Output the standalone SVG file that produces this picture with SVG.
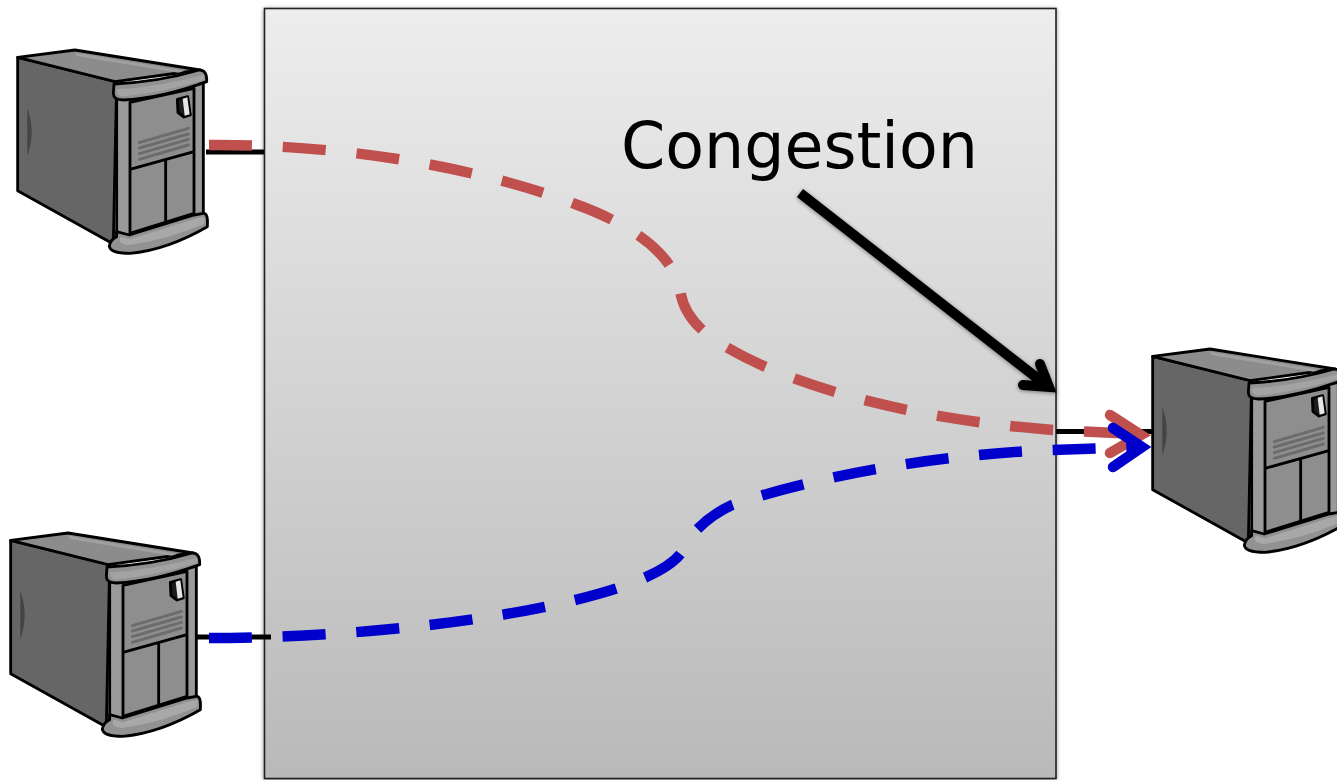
<svg xmlns="http://www.w3.org/2000/svg" width="1337" height="780" viewBox="0 0 1337 780">
<style>
.ol{stroke:#000;stroke-width:8.5;stroke-linejoin:round}
.vent{stroke:#6c6c6c;stroke-width:9;stroke-linecap:round;fill:none}
.link{stroke:#000;stroke-width:5;fill:none}
.flow{fill:none;stroke-width:10.5}
.head{fill:none;stroke-width:10.5;stroke-linecap:round;stroke-linejoin:miter;stroke-miterlimit:10}
.red{stroke:#c0504d;stroke-dasharray:43 30.9}
.blue{stroke:#0000cc;stroke-dasharray:43 30.7}
.head.red,.head.blue{stroke-dasharray:none}
.label{font-family:"DejaVu Sans",sans-serif;font-size:63.4px;fill:#000}
</style>
<defs>
<linearGradient id="panelFill" x1="0" y1="0" x2="0" y2="1">
<stop offset="0" stop-color="#ededed"/><stop offset="1" stop-color="#b9b9b9"/>
</linearGradient>
<filter id="soft" x="-5%" y="-5%" width="110%" height="110%">
<feGaussianBlur in="SourceAlpha" stdDeviation="2"/>
<feOffset dx="0" dy="1"/>
<feComponentTransfer><feFuncA type="linear" slope="0.45"/></feComponentTransfer>
<feMerge><feMergeNode/><feMergeNode in="SourceGraphic"/></feMerge>
</filter>
<g id="server" transform="translate(0,40) scale(.33333)">
<path class="ol" fill="#666" d="M53 52 L53 452 L340 612 L350 125 Z"/>
<path class="ol" fill="#8c8c8c" d="M53 52 L225 30 L600 90 L345 125 Z"/>
<path fill="#a0a0a0" d="M225 38 L555 92 L535 98 L230 48 Z"/>
<path fill="#444" d="M82 205 Q 108 275 82 348 Z"/>
<path class="ol" fill="#9a9a9a" d="M350 170 L610 130 L610 525 L350 600 Z"/>
<path class="ol" fill="#8e8e8e" d="M390 187 L582 145 L582 520 L390 580 Z"/>
<path class="ol" fill="none" d="M390 388 L582 335 M497 360 L497 548"/>
<path class="vent" d="M418 308 L565 265 M418 324 L565 282 M418 341 L565 298 M418 358 L565 315"/>
<path class="ol" fill="#1c1c1c" d="M532 178 L563 170 L571 225 L552 231 L534 218 Z"/>
<path fill="#e6e6e6" d="M548 176 L562 172 L569 223 L554 227 Z"/>
<path class="ol" fill="#929292" d="M342 132 Q 480 125 598 90 Q 622 90 620 125 Q 480 176 370 180 Q 340 180 340 160 Z"/>
<path fill="#a3a3a3" d="M350 148 Q 480 140 612 104 L612 120 Q 480 160 365 170 Q 352 168 350 148 Z"/>
<path class="ol" fill="#929292" d="M350 575 L388 585 L582 525 L610 520 Q 625 518 622 560 Q 500 630 390 640 Q 330 640 328 618 Q 332 598 350 590 Z"/>
<path fill="#a8a8a8" d="M362 590 L390 598 L590 535 L614 530 L612 552 Q 500 600 385 615 Q 350 610 362 590 Z"/>
</g>
</defs>
<g id="panel"><rect x="264.5" y="8.5" width="791.5" height="770" fill="url(#panelFill)" stroke="#222" stroke-width="1.6" filter="url(#soft)"/></g>
<g id="server-top-left"><use href="#server"/></g>
<g id="server-bottom-left"><use href="#server" transform="translate(-7,483)"/></g>
<g id="server-right"><use href="#server" transform="translate(1135,299)"/></g>
<g id="congestion-label"><text class="label" x="621" y="168">Congestion</text></g>
<g id="connectors">
<path class="link" d="M206 152 H264"/>
<path class="link" d="M197 637 H271"/>
<path class="link" d="M1056 431.5 H1153"/>
<path class="flow red" d="M209 145 C330 144 470 164 575 204 C625 222 672 250 680 290 C684 318 705 335 728 348 C790 384 900 418 1053 430 L1135 434"/>
<path class="head red" d="M1110 415 L1141 435 L1110 453"/>
<path class="flow blue" d="M209 638 C350 638 520 620 618 588 C650 577 672 566 682 552 C686 537 708 516 732 505 C780 488 900 456 1053 450 L1135 447"/>
<path class="head blue" d="M1113 428 L1142 447 L1113 467"/>
<g filter="url(#soft)">
<path d="M800 193 L1046 385" fill="none" stroke="#000" stroke-width="10"/>
<path d="M1040 364 L1049 387 L1023 385" fill="none" stroke="#000" stroke-width="10" stroke-linecap="round" stroke-miterlimit="10"/>
</g>
</g>
</svg>
